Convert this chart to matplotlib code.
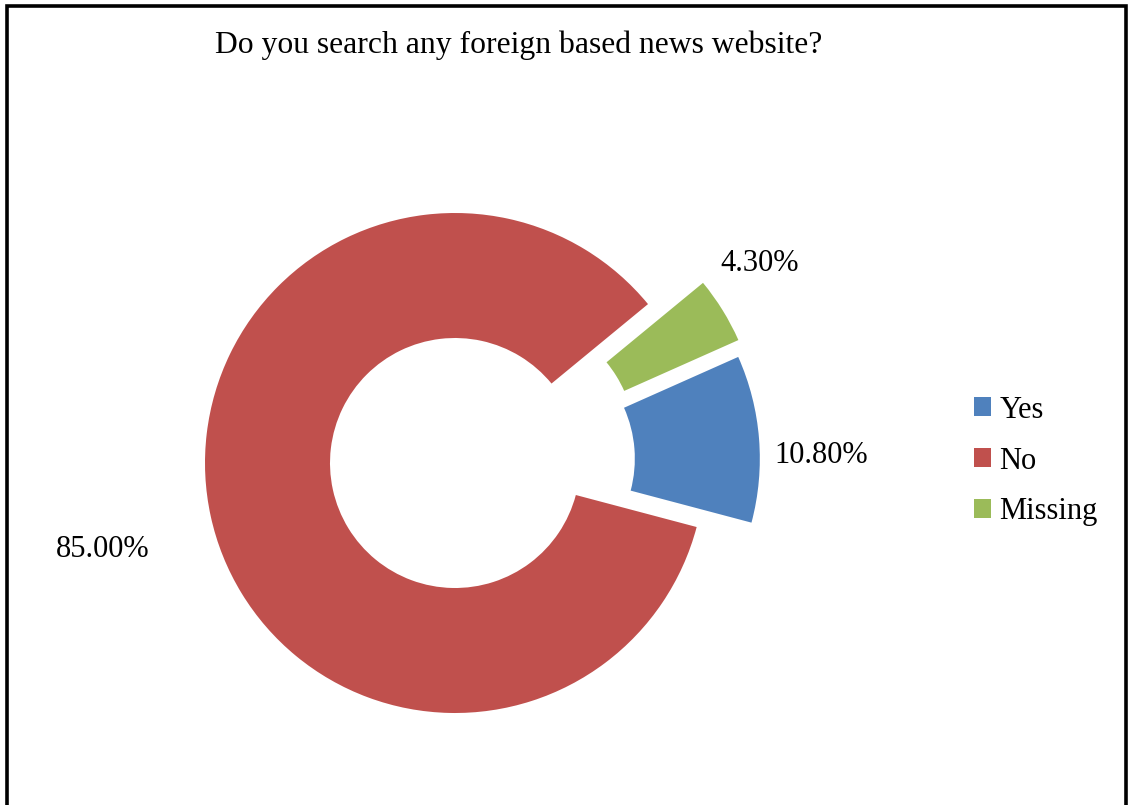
import matplotlib.pyplot as plt
from matplotlib.lines import Line2D
from matplotlib.patches import Patch

plt.rcParams['font.family'] = ['Liberation Serif', 'DejaVu Serif']

# survey answers
labels = ['Yes', 'No', 'Missing']
shares = [10.80, 85.00, 4.30]
colors = ['#4F81BD', '#C0504D', '#9BBB59']
explode = [0.22, 0, 0.25]

W, H = 1128, 805
fig = plt.figure(figsize=(W / 100, H / 100), dpi=100)

# axes fill the figure; 1 data unit = 250 px, pie centred at (455, 463) px
cx, cy, r = 455, 463, 250
ax = fig.add_axes([0, 0, 1, 1])

wedges, _ = ax.pie(shares, colors=colors, explode=explode, startangle=24,
                   counterclock=False, radius=1,
                   wedgeprops=dict(width=0.5, linewidth=0))
# pull the small slice out more sideways so it sits next to "Yes"
wedges[2].set_center((0.22, 0.085))

ax.set_xlim(-cx / r, (W - cx) / r)
ax.set_ylim(-(H - cy) / r, cy / r)
ax.set_aspect('equal')
ax.axis('off')

# percentage labels (pixel positions of text centres / baselines)
lab_pos = {'Yes': (821, 463), 'No': (103, 557), 'Missing': (760, 271)}
for name, v in zip(labels, shares):
    px, py = lab_pos[name]
    fig.text(px / W, 1 - py / H, f'{v:.2f}%', ha='center', va='baseline',
             fontsize=22)

fig.text(519 / W, 1 - 53 / H, 'Do you search any foreign based news website?',
         ha='center', va='baseline', fontsize=22.8)

handles = [Patch(facecolor=c, edgecolor='none') for c in colors]
fig.legend(handles, labels, loc='center left',
           bbox_to_anchor=(974 / W, 1 - 461 / H), frameon=False,
           fontsize=22, handlelength=0.56, handleheight=0.56,
           handletextpad=0.27, labelspacing=0.72, borderpad=0,
           borderaxespad=0)

# frame around the chart (bottom edge falls outside the image)
bx0, bx1, by = 7 / W, 1126 / W, 1 - 6.5 / H
fig.add_artist(Line2D([bx0, bx0, bx1, bx1], [-0.01, by, by, -0.01],
                      transform=fig.transFigure, color='black', linewidth=2.6,
                      solid_joinstyle='miter'))

fig.savefig('out.png', dpi=100)
